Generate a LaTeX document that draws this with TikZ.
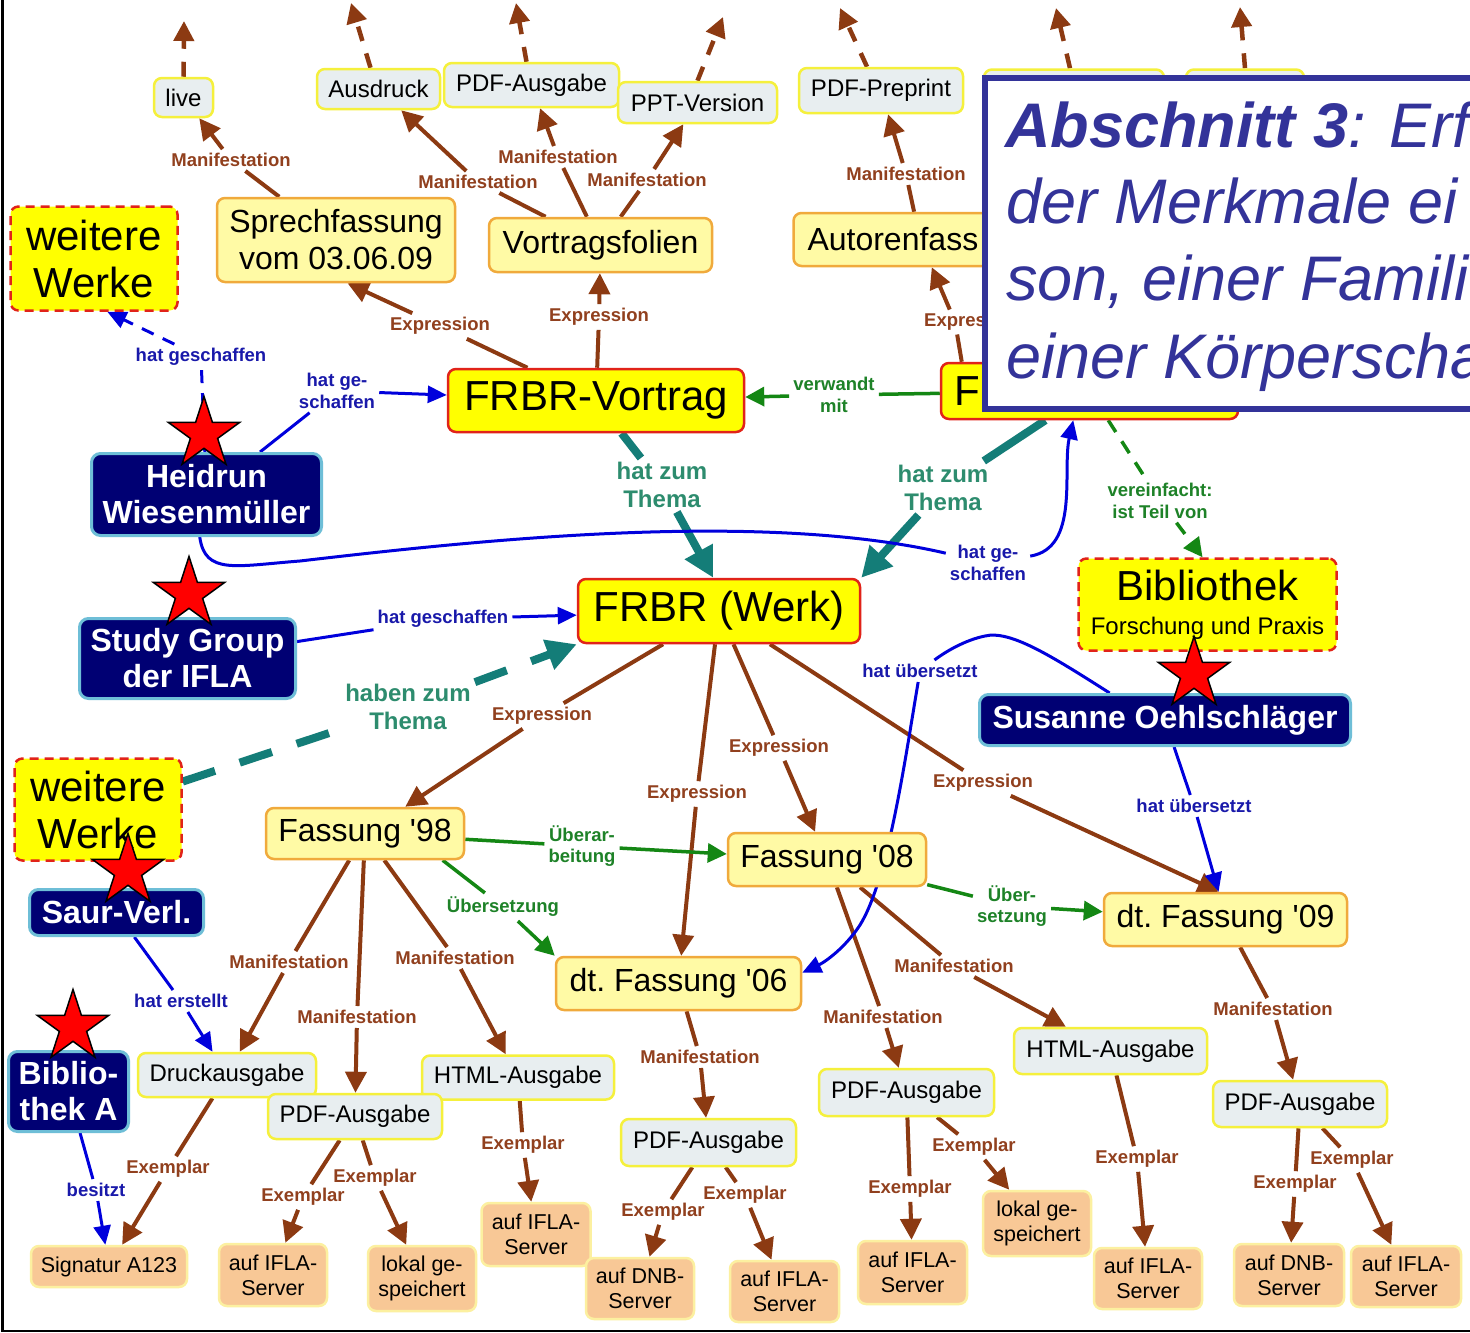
\documentclass[tikz,border=0pt]{standalone}
\usepackage{fontspec}
\setmainfont{Liberation Sans}
\usetikzlibrary{arrows.meta,shapes.geometric,calc}
\pgfdeclarelayer{bg}
\pgfsetlayers{bg,main}
\definecolor{brn}{RGB}{140,58,18}
\definecolor{brnl}{RGB}{145,64,30}
\definecolor{blu}{RGB}{0,0,220}
\definecolor{blul}{RGB}{25,25,170}
\definecolor{grn}{RGB}{20,135,20}
\definecolor{grnl}{RGB}{30,130,40}
\definecolor{tln}{RGB}{20,125,120}
\definecolor{tll}{RGB}{45,140,110}
\definecolor{navyf}{RGB}{0,0,115}
\definecolor{navyb}{RGB}{110,190,215}
\definecolor{ylw}{RGB}{255,255,0}
\definecolor{redb}{RGB}{225,35,25}
\definecolor{expfill}{RGB}{255,250,165}
\definecolor{expb}{RGB}{240,170,60}
\definecolor{manfill}{RGB}{232,238,240}
\definecolor{manb}{RGB}{245,240,60}
\definecolor{exfill}{RGB}{248,200,150}
\definecolor{exb}{RGB}{252,240,160}
\definecolor{ttl}{RGB}{51,51,153}
\tikzset{
  every node/.style={inner sep=0pt, align=center},
  bx/.style 2 args={minimum width=#1pt, minimum height=#2pt},
  werkbox/.style={draw=redb, fill=ylw, line width=2.5pt, rounded corners=8pt, font=\fontsize{42}{47}\selectfont},
  exprbox/.style={draw=expb, fill=expfill, line width=2.5pt, rounded corners=8pt, font=\fontsize{32}{37}\selectfont},
  manibox/.style={draw=manb, fill=manfill, line width=2.5pt, rounded corners=8pt, font=\fontsize{24}{28}\selectfont},
  exbox/.style={draw=exb, fill=exfill, line width=2.5pt, rounded corners=8pt, font=\fontsize{21.5}{25}\selectfont},
  persbox/.style={draw=navyb, fill=navyf, text=white, line width=3pt, rounded corners=9pt, font=\bfseries\fontsize{32}{36}\selectfont},
  otherbox/.style={draw=redb, fill=ylw, line width=2.5pt, dash pattern=on 9pt off 6pt, rounded corners=8pt, font=\fontsize{42}{47}\selectfont},
  lblbr/.style={text=brnl, font=\bfseries\fontsize{18.5}{21.5}\selectfont, inner sep=4pt},
  lblbl/.style={text=blul, font=\bfseries\fontsize{18.5}{21.5}\selectfont, inner sep=4pt},
  lblgr/.style={text=grnl, font=\bfseries\fontsize{18.5}{21.5}\selectfont, inner sep=4pt},
  lbltl/.style={text=tll, font=\bfseries\fontsize{24}{28}\selectfont, inner sep=4pt},
  lnbr/.style={draw=brn, line width=4pt},
  arbr/.style={lnbr, -{Triangle[length=21pt,width=21pt]}},
  lnbl/.style={draw=blu, line width=3pt},
  arbl/.style={lnbl, -{Triangle[length=19pt,width=17pt]}},
  lngr/.style={draw=grn, line width=3.5pt},
  argr/.style={lngr, -{Triangle[length=19pt,width=19pt]}},
  lntl/.style={draw=tln, line width=8pt},
  artl/.style={lntl, -{Triangle[length=30pt,width=30pt]}},
  dshbr/.style={draw=brn, line width=4.5pt, dash pattern=on 15pt off 13pt, -{Triangle[length=20pt,width=20pt]}},
  starsty/.style={star, star points=5, star point ratio=2.618, minimum size=75pt, inner sep=0pt, fill=red, draw=black, line width=1.5pt},
}
\begin{document}
\begin{tikzpicture}[x=1pt,y=-1pt]
\useasboundingbox (0,0) rectangle (1470,1333);
% ---------- main nodes ----------
\node[werkbox, bx={296}{63}] (fv) at (596,400.5) {FRBR-Vortrag};
\node[werkbox, bx={297}{56}, text width=270pt, inner xsep=13.5pt, align=left] (fb) at (1089.5,391) {F};
\node[werkbox, bx={282}{64}] (werk) at (719,611) {FRBR (Werk)};
% expressions
\node[exprbox, bx={238}{84}] (sf) at (336,240) {Sprechfassung\\vom 03.06.09};
\node[exprbox, bx={223}{54}] (vf) at (600.5,245) {Vortragsfolien};
\node[exprbox, bx={253}{53}, text width=225pt, inner xsep=14pt, align=left] (af) at (920,239.5) {Autorenfass};
\node[exprbox, bx={198}{51}] (f98) at (365,833.5) {Fassung \textquotesingle 98};
\node[exprbox, bx={198}{53}] (f08) at (827,859.5) {Fassung \textquotesingle 08};
\node[exprbox, bx={243}{53}] (f09) at (1225.5,919.5) {dt.\ Fassung \textquotesingle 09};
\node[exprbox, bx={245}{53}] (f06) at (678.5,983.5) {dt.\ Fassung \textquotesingle 06};
% manifestations
\node[manibox, bx={59}{39}] (live) at (183.5,97.5) {live};
\node[manibox, bx={123}{40}] (aus) at (378.5,89) {Ausdruck};
\node[manibox, bx={175}{44}] (pdfa) at (531.5,85) {PDF-Ausgabe};
\node[manibox, bx={159}{41}] (ppt) at (697.5,102.5) {PPT-Version};
\node[manibox, bx={164}{45}] (prep) at (881,90.5) {PDF-Preprint};
\node[manibox, bx={180}{55}] (hid1) at (1074,97) {};
\node[manibox, bx={118}{55}] (hid2) at (1245,97) {};
\node[manibox, bx={178}{44}] (druck) at (227,1075) {Druckausgabe};
\node[manibox, bx={192}{44}] (html98) at (518,1077.5) {HTML-Ausgabe};
\node[manibox, bx={174}{45}] (pdf98) at (355,1116.5) {PDF-Ausgabe};
\node[manibox, bx={175}{47}] (pdf06) at (708.5,1142.5) {PDF-Ausgabe};
\node[manibox, bx={175}{47}] (pdf08) at (906.5,1092.5) {PDF-Ausgabe};
\node[manibox, bx={193}{46}] (html09) at (1110.5,1051) {HTML-Ausgabe};
\node[manibox, bx={174}{46}] (pdf09) at (1300,1104) {PDF-Ausgabe};
% exemplars
\node[exbox, bx={156}{41}] (sig) at (109,1266.5) {Signatur A123};
\node[exbox, bx={108}{62}] (ifla1) at (273,1275) {auf IFLA-\\Server};
\node[exbox, bx={108}{65}] (lok1) at (422,1278.5) {lokal ge-\\speichert};
\node[exbox, bx={109}{63}] (ifla2) at (536,1234.5) {auf IFLA-\\Server};
\node[exbox, bx={108}{61}] (dnb1) at (640,1288.5) {auf DNB-\\Server};
\node[exbox, bx={109}{61}] (ifla3) at (784.5,1291.5) {auf IFLA-\\Server};
\node[exbox, bx={109}{63}] (ifla4) at (912.5,1272.5) {auf IFLA-\\Server};
\node[exbox, bx={108}{65}] (lok2) at (1037,1223.5) {lokal ge-\\speichert};
\node[exbox, bx={108}{61}] (ifla5) at (1148,1278.5) {auf IFLA-\\Server};
\node[exbox, bx={110}{62}] (dnb2) at (1289,1275) {auf DNB-\\Server};
\node[exbox, bx={110}{61}] (ifla6) at (1406,1276.5) {auf IFLA-\\Server};
% persons
\node[persbox, bx={230}{82}] (hw) at (206.5,494.5) {Heidrun\\Wiesenmüller};
\node[persbox, bx={216}{80}] (sg) at (187.5,658.5) {Study Group\\der IFLA};
\node[persbox, bx={371}{51}] (sus) at (1165,720) {Susanne Oehlschläger};
\node[persbox, bx={174}{46}] (saur) at (116.5,912.5) {Saur-Verl.};
\node[persbox, bx={120}{80}] (bib) at (68.5,1091.5) {Biblio-\\thek A};
% other works
\node[otherbox, bx={167}{104}] (ww1) at (94,258.5) {weitere\\Werke};
\node[otherbox, bx={167}{102}] (ww2) at (98,809.5) {weitere\\Werke};
\node[otherbox, bx={258}{92}] (bibl) at (1207.5,604.5) {Bibliothek\\[-13pt]{\fontsize{24}{28}\selectfont Forschung und Praxis}};
% ---------- labels ----------
\node[lblbr] (m1) at (231,160) {Manifestation};
\node[lblbr] (m2) at (478,182) {Manifestation};
\node[lblbr] (m3) at (558,157) {Manifestation};
\node[lblbr] (m4) at (647,180) {Manifestation};
\node[lblbr] (m5) at (906,174) {Manifestation};
\node[lblbr] (m6) at (289,962) {Manifestation};
\node[lblbr] (m7) at (357,1017) {Manifestation};
\node[lblbr] (m8) at (455,958) {Manifestation};
\node[lblbr] (m9) at (700,1057) {Manifestation};
\node[lblbr] (m10) at (883,1017) {Manifestation};
\node[lblbr] (m11) at (954,966) {Manifestation};
\node[lblbr] (m12) at (1273,1009) {Manifestation};
\node[lblbr] (e1) at (440,326) {Expression};
\node[lblbr] (e2) at (599,317) {Expression};
\node[lblbr, anchor=west] (e3) at (920,322) {Expres};
\node[lblbr] (e4) at (542,716) {Expression};
\node[lblbr] (e5) at (697,794) {Expression};
\node[lblbr] (e6) at (779,748) {Expression};
\node[lblbr] (e7) at (983,783) {Expression};
\node[lblbr] (x1) at (168,1169) {Exemplar};
\node[lblbr] (x2) at (303,1197) {Exemplar};
\node[lblbr] (x3) at (375,1178) {Exemplar};
\node[lblbr] (x4) at (523,1145) {Exemplar};
\node[lblbr] (x5) at (663,1212) {Exemplar};
\node[lblbr] (x6) at (745,1195) {Exemplar};
\node[lblbr] (x7) at (910,1189) {Exemplar};
\node[lblbr] (x8) at (974,1147) {Exemplar};
\node[lblbr] (x9) at (1137,1159) {Exemplar};
\node[lblbr] (x10) at (1295,1184) {Exemplar};
\node[lblbr] (x11) at (1352,1160) {Exemplar};
\node[lblbl] (b1) at (201,357) {hat geschaffen};
\node[lblbl] (b2) at (337,391) {hat ge-\\schaffen};
\node[lblbl] (b3) at (988,563) {hat ge-\\schaffen};
\node[lblbl] (b4) at (443,619) {hat geschaffen};
\node[lblbl] (b5) at (920,671) {hat übersetzt};
\node[lblbl] (b6) at (1194,806) {hat übersetzt};
\node[lblbl] (b7) at (181,1001) {hat erstellt};
\node[lblbl] (b8) at (96,1190) {besitzt};
\node[lblgr] (g1) at (834,395) {verwandt\\mit};
\node[lblgr] (g2) at (1160,501) {vereinfacht:\\ist Teil von};
\node[lblgr] (g3) at (582,846) {Überar-\\beitung};
\node[lblgr] (g4) at (503,907) {Übersetzung};
\node[lblgr] (g5) at (1012,906) {Über-\\setzung};
\node[lbltl] (t1l) at (662,485) {hat zum\\Thema};
\node[lbltl] (t2l) at (943,488) {hat zum\\Thema};
\node[lbltl] (t3l) at (408,707) {haben zum\\Thema};
% free ends of the upward dashed arrows
\coordinate (u1) at (184,21);
\coordinate (u2) at (351,3);
\coordinate (u3) at (516,3);
\coordinate (u4) at (723,17);
\coordinate (u5) at (840,8);
\coordinate (u6) at (1056,8);
\coordinate (u7) at (1240,7);
% ---------- connectors (behind nodes) ----------
\begin{pgfonlayer}{bg}
\fill[white] (0,0) rectangle (1470,1333);
\draw[dshbr] (live.north) -- (u1);
\draw[dshbr] ($(aus.north)+(-8,0)$) -- (u2);
\draw[dshbr] ($(pdfa.north)+(-5,0)$) -- (u3);
\draw[dshbr] (ppt.north) -- (u4);
\draw[dshbr] ($(prep.north)+(-14,0)$) -- (u5);
\draw[dshbr] ($(hid1.north)+(-4,0)$) -- (u6);
\draw[dshbr] (hid2.north) -- (u7);
% brown: top
\draw[lnbr] (sf) -- (m1); \draw[arbr] (m1) -- (live);
\draw[lnbr] (vf) -- (m2); \draw[arbr] (m2) -- (aus);
\draw[lnbr] (vf) -- (m3); \draw[arbr] (m3) -- (pdfa);
\draw[lnbr] (vf) -- (m4); \draw[arbr] (m4) -- (ppt);
\draw[lnbr] (fv) -- (e1); \draw[arbr] (e1) -- (sf.-75);
\draw[lnbr] (fv) -- (e2); \draw[arbr] (e2) -- (vf);
\draw[lnbr] ($(fb.north west)+(22,0)$) -- (e3); \draw[arbr] (e3) -- (af);
\draw[lnbr] (af) -- (m5); \draw[arbr] (m5) -- (prep);
% brown: expressions of the work
\draw[lnbr] (werk) -- (e4); \draw[arbr] (e4) -- (f98);
\draw[lnbr] (werk) -- (e5); \draw[arbr] (e5) -- (f06);
\draw[lnbr] (werk) -- (e6); \draw[arbr] (e6) -- (f08);
\draw[lnbr] (werk) -- (e7); \draw[arbr] (e7) -- (f09.104);
% brown: manifestations
\draw[lnbr] (f98) -- (m6); \draw[arbr] (m6) -- (druck);
\draw[lnbr] (f98) -- (m7); \draw[arbr] (m7) -- (pdf98);
\draw[lnbr] (f98) -- (m8); \draw[arbr] (m8) -- (html98);
\draw[lnbr] (f06) -- (m9); \draw[arbr] (m9) -- (pdf06);
\draw[lnbr] (f08) -- (m10); \draw[arbr] (m10) -- (pdf08);
\draw[lnbr] (f08) -- (m11); \draw[arbr] (m11) -- (html09);
\draw[lnbr] (f09) -- (m12); \draw[arbr] (m12) -- (pdf09);
% brown: exemplars
\draw[lnbr] (druck) -- (x1); \draw[arbr] (x1) -- (sig);
\draw[lnbr] (pdf98) -- (x2); \draw[arbr] (x2) -- (ifla1);
\draw[lnbr] (pdf98) -- (x3); \draw[arbr] (x3) -- (lok1);
\draw[lnbr] (html98) -- (x4); \draw[arbr] (x4) -- (ifla2);
\draw[lnbr] (pdf06) -- (x5); \draw[arbr] (x5) -- (dnb1);
\draw[lnbr] (pdf06) -- (x6); \draw[arbr] (x6) -- (ifla3);
\draw[lnbr] (pdf08) -- (x7); \draw[arbr] (x7) -- (ifla4);
\draw[lnbr] (pdf08) -- (x8); \draw[arbr] (x8) -- (lok2);
\draw[lnbr] (html09) -- (x9); \draw[arbr] (x9) -- (ifla5);
\draw[lnbr] (pdf09) -- (x10); \draw[arbr] (x10) -- (dnb2);
\draw[lnbr] (pdf09) -- (x11); \draw[arbr] (x11) -- (ifla6);
% green
\draw[lngr] (fb) -- (g1); \draw[argr] (g1) -- (fv);
\draw[lngr, dash pattern=on 14pt off 11pt] (fb) -- (g2);
\draw[argr, dash pattern=on 14pt off 11pt] (g2) -- (bibl.96);
\draw[lngr] (f98) -- (g3); \draw[argr] (g3) -- (f08);
\draw[lngr] (f98.-19) -- (g4); \draw[argr] (g4) -- (f06.north west);
\draw[lngr] (f08) -- (g5); \draw[argr] (g5) -- (f09);
% teal
\draw[lntl] (fv) -- (t1l); \draw[artl] (t1l) -- (werk.100);
\draw[lntl] (fb) -- (t2l); \draw[artl] (t2l) -- (werk.north east);
\draw[lntl, dash pattern=on 34pt off 26pt] (ww2) -- (t3l);
\draw[artl, dash pattern=on 34pt off 26pt] (t3l) -- (werk.south west);
% blue
\draw[lnbl, dash pattern=on 13pt off 10pt] (hw) -- (b1);
\draw[arbl, dash pattern=on 13pt off 10pt] (b1) -- (ww1.-76);
\draw[lnbl] (hw) -- (b2); \draw[arbl] (b2) -- (fv);
\draw[lnbl] (hw.-99) .. controls (205,575) and (235,566) .. (300,561) .. controls (480,540) and (760,510) .. (b3);
\draw[arbl] (b3) .. controls (1080,548) and (1062,470) .. (fb.241);
\draw[lnbl] (sg) -- (b4); \draw[arbl] (b4) -- (werk);
\draw[lnbl] (sus.154) .. controls (1050,655) and (1010,630) .. (985,636) .. controls (965,640) and (945,652) .. (b5);
\draw[arbl] (b5) .. controls (905,760) and (888,880) .. (860,925) .. controls (845,948) and (825,962) .. (f06.5);
\draw[lnbl] (sus) -- (b6); \draw[arbl] (b6) -- (f09.104);
\draw[lnbl] (saur) -- (b7); \draw[arbl] (b7) -- (druck);
\draw[lnbl] (bib) -- (b8); \draw[arbl] (b8) -- (sig);
\end{pgfonlayer}
% ---------- stars ----------
\node[starsty] (st1) at (204,434) {};
\node[starsty] (st2) at (189,594) {};
\node[starsty] (st3) at (128,871) {};
\node[starsty] (st4) at (73,1027) {};
\node[starsty] (st5) at (1194,674) {};
% ---------- title panel ----------
\node[draw=ttl, line width=6pt, fill=white, anchor=north west, minimum width=520pt, minimum height=331pt] (ttlbox) at (982,75) {};
\node[anchor=base west, text=ttl, font=\fontsize{63}{77}\selectfont] (tx1) at (1005,147) {\textbf{\textit{Abschnitt 3}}\textit{: Erf}};
\node[anchor=base west, text=ttl, font=\fontsize{63}{77}\selectfont] (tx2) at (1006,223) {\textit{der Merkmale ei}};
\node[anchor=base west, text=ttl, font=\fontsize{63}{77}\selectfont] (tx3) at (1006,300) {\textit{son, einer Famili}};
\node[anchor=base west, text=ttl, font=\fontsize{63}{77}\selectfont] (tx4) at (1006,378) {\textit{einer Körperscha}};
% frame
\draw[black, line width=2.5pt] (2.5,0) -- (2.5,1331) -- (1470,1331);
\end{tikzpicture}
\end{document}
